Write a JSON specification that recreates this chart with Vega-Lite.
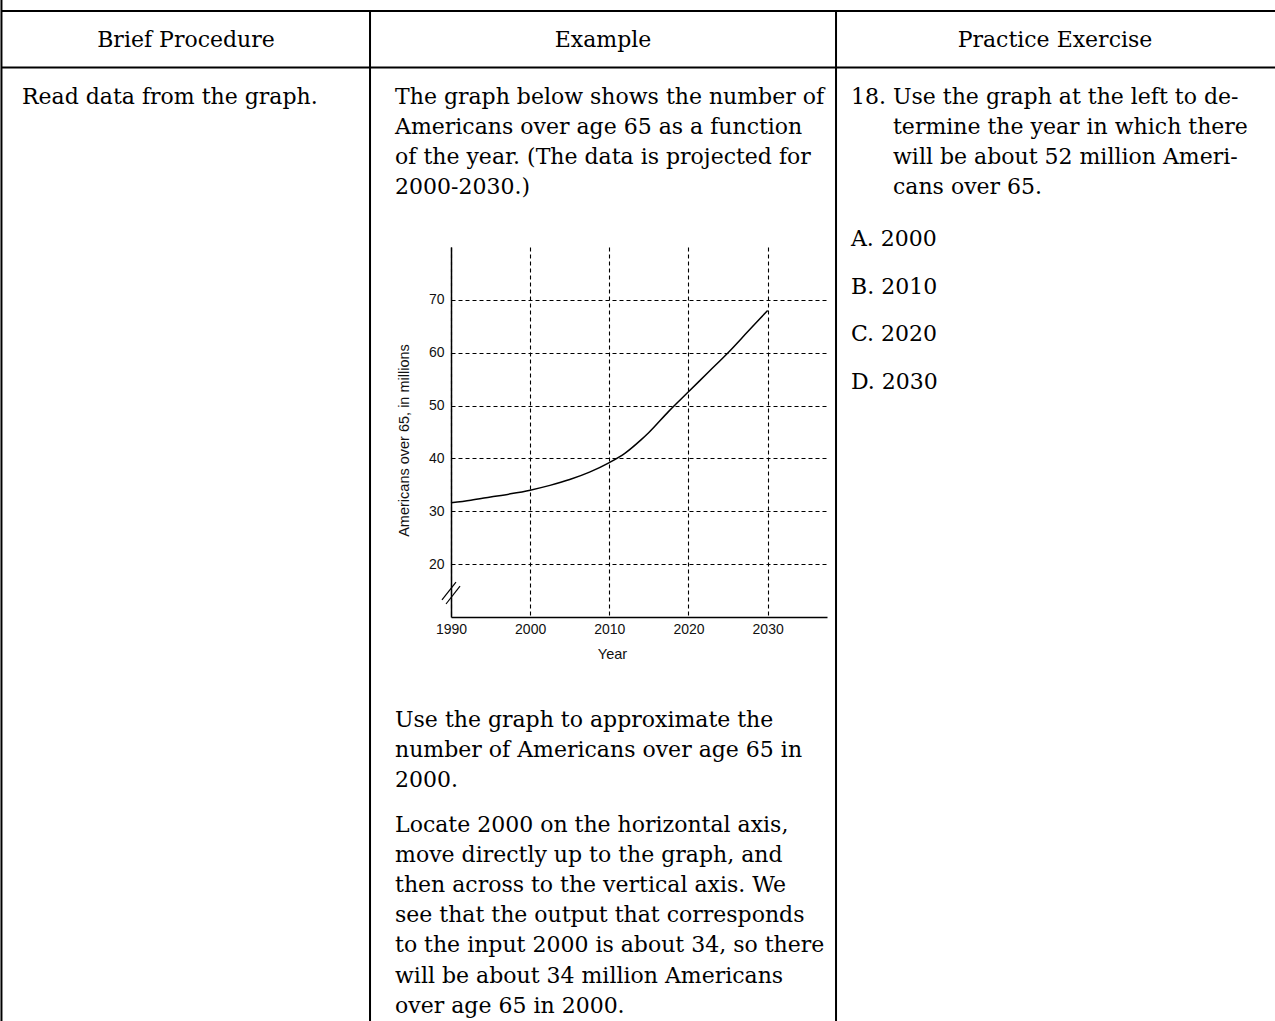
{
  "$schema": "https://vega.github.io/schema/vega-lite/v6.json",
  "width": 376,
  "height": 370,
  "autosize": {"type": "none"},
  "padding": {"left": 451, "top": 247, "right": 448, "bottom": 404},
  "background": "white",
  "config": {
    "view": {"stroke": null},
    "axis": {
      "domainColor": "black",
      "domainWidth": 1.5,
      "ticks": false,
      "tickSize": 0,
      "grid": true,
      "gridColor": "black",
      "gridDash": [4, 3],
      "gridWidth": 1.1,
      "gridOpacity": 1,
      "labelFont": "Liberation Sans",
      "labelFontSize": 14,
      "labelColor": "#111",
      "titleFont": "Liberation Sans",
      "titleFontSize": 14.5,
      "titleFontWeight": "normal",
      "titleColor": "#111"
    },
    "text": {"font": "DejaVu Serif", "fontSize": 22, "color": "black", "baseline": "alphabetic", "align": "left"}
  },
  "layer": [
    {
      "data": {
        "values": [
          {"year": 1990, "pop": 31.6},
          {"year": 1992.5, "pop": 32.1},
          {"year": 1995, "pop": 32.7},
          {"year": 1997.5, "pop": 33.3},
          {"year": 2000, "pop": 34.0},
          {"year": 2002.5, "pop": 34.9},
          {"year": 2005, "pop": 36.0},
          {"year": 2007.5, "pop": 37.4},
          {"year": 2010, "pop": 39.2},
          {"year": 2012, "pop": 41.0},
          {"year": 2014, "pop": 43.5},
          {"year": 2015, "pop": 44.9},
          {"year": 2017.5, "pop": 48.9},
          {"year": 2020, "pop": 52.6},
          {"year": 2022.5, "pop": 56.3},
          {"year": 2025, "pop": 60.0},
          {"year": 2027.5, "pop": 64.0},
          {"year": 2030, "pop": 68.0}
        ]
      },
      "mark": {"type": "line", "color": "black", "strokeWidth": 1.5, "interpolate": "monotone"},
      "encoding": {
        "x": {
          "field": "year",
          "type": "quantitative",
          "scale": {"domain": [1990, 2037.5], "nice": false, "zero": false},
          "axis": {
            "title": "Year",
            "values": [1990, 2000, 2010, 2020, 2030],
            "format": "d",
            "labelFlush": false,
            "labelPadding": 5,
            "titlePadding": 11,
            "titleX": 161
          }
        },
        "y": {
          "field": "pop",
          "type": "quantitative",
          "scale": {"domain": [10, 80], "nice": false, "zero": false},
          "axis": {
            "title": "Americans over 65, in millions",
            "values": [20, 30, 40, 50, 60, 70],
            "labelPadding": 7,
            "titlePadding": 17,
            "titleY": 193
          }
        }
      }
    },
    {
      "data": {"values": [{}]},
      "mark": {"type": "rule", "color": "black", "strokeWidth": 2},
      "encoding": {
        "x": {"datum": 1933.21, "type": "quantitative"},
        "y": {"datum": 128, "type": "quantitative"},
        "y2": {"datum": -68}
      }
    },
    {
      "data": {"values": [{}]},
      "mark": {"type": "rule", "color": "black", "strokeWidth": 2},
      "encoding": {
        "x": {"datum": 1933.21, "type": "quantitative"},
        "x2": {"datum": 2096},
        "y": {"datum": 124.65, "type": "quantitative"}
      }
    },
    {
      "data": {"values": [{}]},
      "mark": {"type": "rule", "color": "black", "strokeWidth": 2},
      "encoding": {
        "x": {"datum": 1933.21, "type": "quantitative"},
        "x2": {"datum": 2096},
        "y": {"datum": 113.96, "type": "quantitative"}
      }
    },
    {
      "data": {"values": [{}]},
      "mark": {"type": "rule", "color": "black", "strokeWidth": 2},
      "encoding": {
        "x": {"datum": 1979.77, "type": "quantitative"},
        "y": {"datum": 124.65, "type": "quantitative"},
        "y2": {"datum": -68}
      }
    },
    {
      "data": {"values": [{}]},
      "mark": {"type": "rule", "color": "black", "strokeWidth": 2},
      "encoding": {
        "x": {"datum": 2038.64, "type": "quantitative"},
        "y": {"datum": 124.65, "type": "quantitative"},
        "y2": {"datum": -68}
      }
    },
    {
      "data": {"values": [{"t": "Brief Procedure"}]},
      "mark": {"type": "text", "align": "center"},
      "encoding": {
        "x": {"datum": 1956.52, "type": "quantitative"},
        "y": {"datum": 117.84, "type": "quantitative"},
        "text": {"field": "t"}
      }
    },
    {
      "data": {"values": [{"t": "Example"}]},
      "mark": {"type": "text", "align": "center"},
      "encoding": {
        "x": {"datum": 2009.2, "type": "quantitative"},
        "y": {"datum": 117.84, "type": "quantitative"},
        "text": {"field": "t"}
      }
    },
    {
      "data": {"values": [{"t": "Practice Exercise"}]},
      "mark": {"type": "text", "align": "center"},
      "encoding": {
        "x": {"datum": 2066.3, "type": "quantitative"},
        "y": {"datum": 117.84, "type": "quantitative"},
        "text": {"field": "t"}
      }
    },
    {
      "data": {"values": [{"t": "Read data from the graph."}]},
      "mark": {"type": "text"},
      "encoding": {
        "x": {"datum": 1935.8, "type": "quantitative"},
        "y": {"datum": 107.05, "type": "quantitative"},
        "text": {"field": "t"}
      }
    },
    {
      "data": {"values": [{"t": "The graph below shows the number of\nAmericans over age 65 as a function\nof the year.  (The data is projected for\n2000-2030.)"}]},
      "mark": {"type": "text", "lineBreak": "\n", "lineHeight": 30.1},
      "encoding": {
        "x": {"datum": 1982.93, "type": "quantitative"},
        "y": {"datum": 107.05, "type": "quantitative"},
        "text": {"field": "t"}
      }
    },
    {
      "data": {"values": [{"t": "Use the graph to approximate the\nnumber of Americans over age 65 in\n2000."}]},
      "mark": {"type": "text", "lineBreak": "\n", "lineHeight": 30.1},
      "encoding": {
        "x": {"datum": 1982.93, "type": "quantitative"},
        "y": {"datum": -10.81, "type": "quantitative"},
        "text": {"field": "t"}
      }
    },
    {
      "data": {"values": [{"t": "Locate 2000 on the horizontal axis,\nmove directly up to the graph, and\nthen across to the vertical axis.  We\nsee that the output that corresponds\nto the input 2000 is about 34, so there\nwill be about 34 million Americans\nover age 65 in 2000."}]},
      "mark": {"type": "text", "lineBreak": "\n", "lineHeight": 30.1},
      "encoding": {
        "x": {"datum": 1982.93, "type": "quantitative"},
        "y": {"datum": -30.68, "type": "quantitative"},
        "text": {"field": "t"}
      }
    },
    {
      "data": {"values": [{"t": "18."}]},
      "mark": {"type": "text"},
      "encoding": {
        "x": {"datum": 2040.53, "type": "quantitative"},
        "y": {"datum": 107.05, "type": "quantitative"},
        "text": {"field": "t"}
      }
    },
    {
      "data": {"values": [{"t": "Use the graph at the left to de-\ntermine the year in which there\nwill be about 52 million Ameri-\ncans over 65."}]},
      "mark": {"type": "text", "lineBreak": "\n", "lineHeight": 30.1},
      "encoding": {
        "x": {"datum": 2045.84, "type": "quantitative"},
        "y": {"datum": 107.05, "type": "quantitative"},
        "text": {"field": "t"}
      }
    },
    {
      "data": {"values": [{"t": "A. 2000\nB. 2010\nC. 2020\nD. 2030"}]},
      "mark": {"type": "text", "lineBreak": "\n", "lineHeight": 47.7},
      "encoding": {
        "x": {"datum": 2040.53, "type": "quantitative"},
        "y": {"datum": 80.19, "type": "quantitative"},
        "text": {"field": "t"}
      }
    },
    {
      "data": {"values": [{}]},
      "mark": {"type": "rule", "color": "black", "strokeWidth": 1.2},
      "encoding": {
        "x": {"datum": 1988.86, "type": "quantitative"},
        "x2": {"datum": 1990.63},
        "y": {"datum": 13.22, "type": "quantitative"},
        "y2": {"datum": 16.62}
      }
    },
    {
      "data": {"values": [{}]},
      "mark": {"type": "rule", "color": "black", "strokeWidth": 1.2},
      "encoding": {
        "x": {"datum": 1989.37, "type": "quantitative"},
        "x2": {"datum": 1991.14},
        "y": {"datum": 12.46, "type": "quantitative"},
        "y2": {"datum": 15.86}
      }
    }
  ]
}
